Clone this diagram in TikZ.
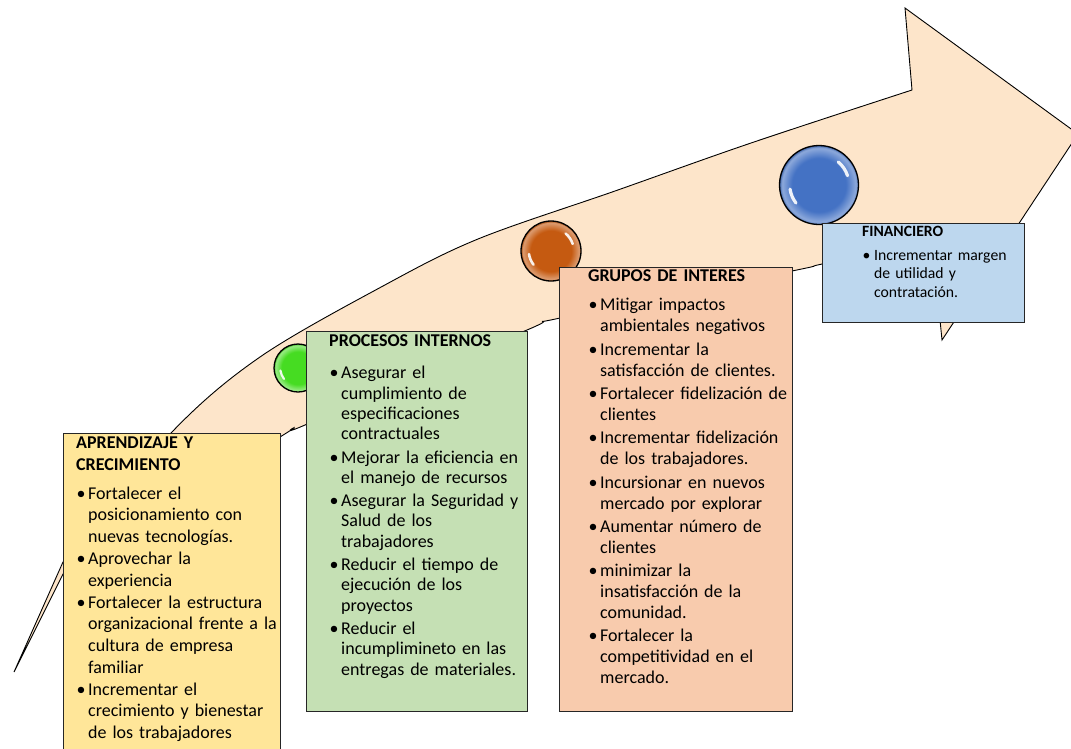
\documentclass[tikz,border=0pt]{standalone}
\usepackage{fontspec}
\setmainfont{Carlito}
\definecolor{arrowfill}{HTML}{FDE5CA}
\definecolor{yel}{HTML}{FFE699}
\definecolor{grn}{HTML}{C5E0B4}
\definecolor{sal}{HTML}{F8CBAD}
\definecolor{blu}{HTML}{BDD7EE}
\definecolor{ballg}{HTML}{46DC22}
\definecolor{ballo}{HTML}{C55A11}
\definecolor{ballb}{HTML}{4472C4}
\pgfdeclareradialshading{shadeg}{\pgfpoint{0bp}{0bp}}{color(0bp)=(ballg); color(17bp)=(ballg); color(23.5bp)=(ballg!55!white); color(25bp)=(ballg!85!black); color(50bp)=(ballg!85!black)}
\pgfdeclareradialshading{shadeo}{\pgfpoint{0bp}{0bp}}{color(0bp)=(ballo); color(17bp)=(ballo); color(23.5bp)=(ballo!60!white); color(25bp)=(ballo!85!black); color(50bp)=(ballo!85!black)}
\pgfdeclareradialshading{shadeb}{\pgfpoint{0bp}{0bp}}{color(0bp)=(ballb); color(17bp)=(ballb); color(23.5bp)=(ballb!60!white); color(25bp)=(ballb!85!black); color(50bp)=(ballb!85!black)}
\newcommand\bitem[1]{\par\hangindent=12pt\hangafter=1\noindent\makebox[12pt][l]{\hspace{0.5pt}\textbullet}#1}
\newcommand\ball[6]{%
  \node[circle, draw=black, line width=1.3pt, minimum size=#4, inner sep=0pt,
        shading=#5] (#1) at (#2,#3) {};
  \draw[white, opacity=0.9, line width=#6, line cap=round] (#1.center) ++(-142:0.74*#4/2) arc (-142:-172:0.74*#4/2);
  \draw[white, opacity=0.9, line width=#6, line cap=round] (#1.center) ++(18:0.76*#4/2) arc (18:50:0.76*#4/2);
}
\tikzset{
  panel/.style={draw=black!85, line width=0.9pt, anchor=north west, inner sep=0pt},
  txt/.style={anchor=base west, inner sep=0pt, text width=300pt, align=left},
}
\begin{document}
\begin{tikzpicture}[x=1pt,y=-1pt]
\useasboundingbox (0,0) rectangle (1071,748);
\clip (0,0) rectangle (1071,748);
% arrow
\draw[black, line width=0.9pt, fill=arrowfill, line join=miter]
  (14,672) -- (63,562) -- plot[smooth, tension=0.55] coordinates {(63,562) (171,433) (260,357) (383,286) (478,239) (615,191) (751,143) (912,90)}
  -- (905,8) -- (1078,134) -- (942,340) -- (932,240)
  -- plot[smooth, tension=0.55] coordinates {(932,240) (822,264) (792,271) (560,318) (527,330) (305,425) (280,437) (63,574)}
  -- cycle;
% balls
\ball{bg}{298}{368}{48pt}{shadeg}{2.2pt}
\ball{bo}{551}{251}{60pt}{shadeo}{2.6pt}
\ball{bb}{819}{185}{79pt}{shadeb}{3.2pt}
% boxes
\node[panel, fill=yel, minimum width=217pt, minimum height=330pt] (yb) at (63,433) {};
\node[panel, fill=grn, minimum width=221pt, minimum height=380pt] (gb) at (306,331) {};
\node[panel, fill=sal, minimum width=233pt, minimum height=444pt] (sb) at (559,267) {};
\node[panel, fill=blu, minimum width=202pt, minimum height=99pt] (bbx) at (822,223) {};
% texts
\node[txt, font=\fontsize{18}{21.6}\selectfont] (yt) at (76,448.5) {%
\textbf{APRENDIZAJE Y\newline CRECIMIENTO}\par\vspace{7pt}\setlength{\parskip}{0.5pt}%
\bitem{Fortalecer el\newline posicionamiento con\newline nuevas tecnologías.}%
\bitem{Aprovechar la\newline experiencia}%
\bitem{Fortalecer la estructura\newline organizacional frente a la\newline cultura de empresa\newline familiar}%
\bitem{Incrementar el\newline crecimiento y bienestar\newline de los trabajadores}\par};
\node[txt, font=\fontsize{18}{20.3}\selectfont] (gt) at (329,346.5) {%
\textbf{PROCESOS INTERNOS}\par\vspace{9pt}\setlength{\parskip}{3pt}%
\bitem{Asegurar el\newline cumplimiento de\newline especificaciones\newline contractuales}%
\bitem{Mejorar la eficiencia en\newline el manejo de recursos}%
\bitem{Asegurar la Seguridad y\newline Salud de los\newline trabajadores}%
\bitem{Reducir el tiempo de\newline ejecución de los\newline proyectos}%
\bitem{Reducir el\newline incumplimineto en las\newline entregas de materiales.}\par};
\node[txt, font=\fontsize{18}{21}\selectfont] (st) at (588,281.5) {%
\textbf{GRUPOS DE INTERES}\par\vspace{6pt}\setlength{\parskip}{2.3pt}%
\bitem{Mitigar impactos\newline ambientales negativos}%
\bitem{Incrementar la\newline satisfacción de clientes.}%
\bitem{Fortalecer fidelización de\newline clientes}%
\bitem{Incrementar fidelización\newline de los trabajadores.}%
\bitem{Incursionar en nuevos\newline mercado por explorar}%
\bitem{Aumentar número de\newline clientes}%
\bitem{minimizar la\newline insatisfacción de la\newline comunidad.}%
\bitem{Fortalecer la\newline competitividad en el\newline mercado.}\par};
\node[txt, font=\fontsize{15.7}{18.5}\selectfont] (ft) at (862,236.5) {%
\textbf{FINANCIERO}\par\vspace{5pt}%
\bitem{Incrementar margen\newline de utilidad y\newline contratación.}\par};
\end{tikzpicture}
\end{document}
